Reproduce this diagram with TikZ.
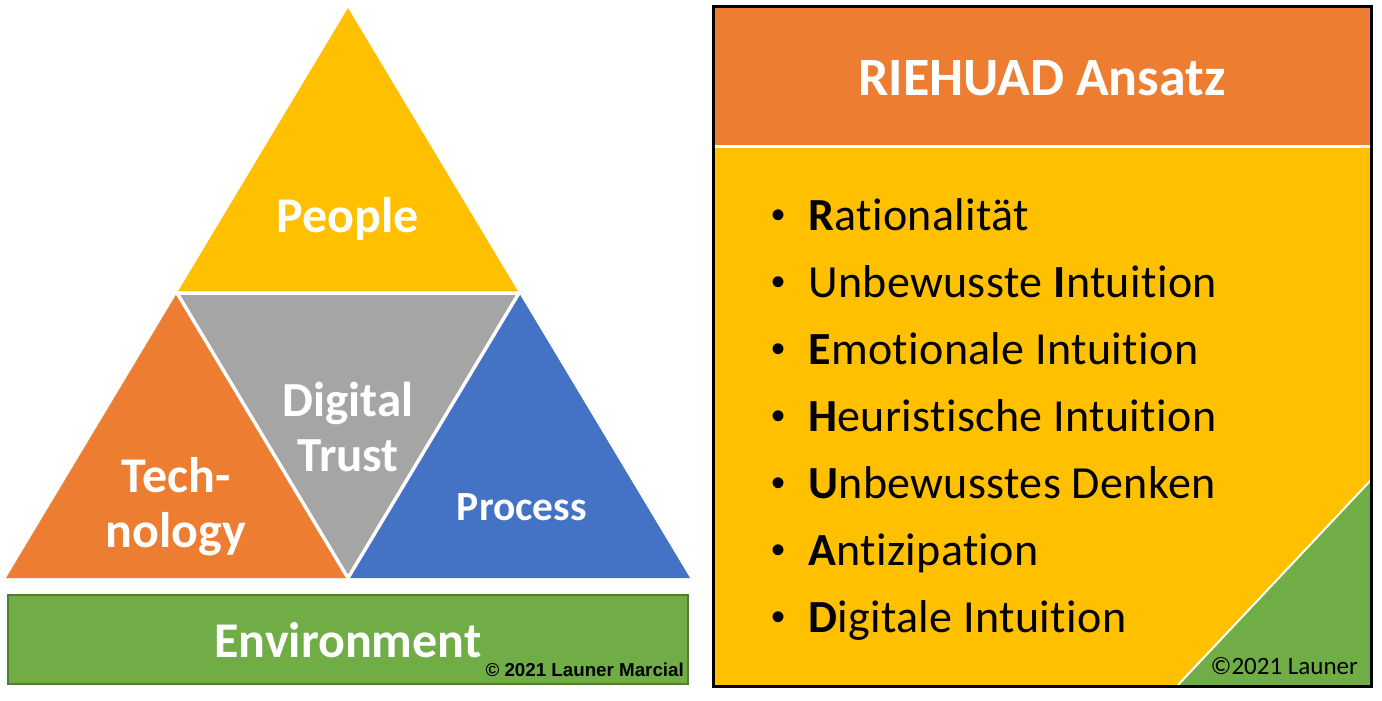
\documentclass[tikz,border=0pt]{standalone}
\usepackage{fontspec}
\setmainfont[Ligatures=NoCommon]{Carlito}
\newfontfamily\itemfont[Ligatures=NoCommon,LetterSpace=0.8]{Carlito}
\newfontfamily\arialfont{Liberation Sans}
\definecolor{cyellow}{HTML}{FFC000}
\definecolor{corange}{HTML}{ED7D31}
\definecolor{cgray}{HTML}{A5A5A5}
\definecolor{cblue}{HTML}{4472C4}
\definecolor{cgreen}{HTML}{70AD47}
\definecolor{cgreenborder}{HTML}{507E32}
\tikzset{
  whitelabel/.style={text=white,font=\bfseries,inner sep=0pt,align=center},
  itemtext/.style={anchor=base west,inner sep=0pt,font=\itemfont\fontsize{46}{54}\selectfont,text=black},
  bulletdot/.style={anchor=base,inner sep=0pt,font=\arialfont\fontsize{40}{42}\selectfont,text=black},
  sepline/.style={white,line width=3.5pt,line cap=round},
}
\begin{document}
\begin{tikzpicture}[x=1pt,y=-1pt]
\useasboundingbox (0,0) rectangle (1382,701);
\fill[white] (0,0) rectangle (1382,701);
% pyramid vertices
\coordinate (A) at (348,8);
\coordinate (B) at (6,578);
\coordinate (C) at (690,578);
\coordinate (MAB) at (177,293);
\coordinate (MAC) at (519,293);
\coordinate (MBC) at (348,578);
\fill[cyellow] (A) -- (MAB) -- (MAC) -- cycle;
\fill[corange] (MAB) -- (B) -- (MBC) -- cycle;
\fill[cblue] (MAC) -- (MBC) -- (C) -- cycle;
\fill[cgray] (MAB) -- (MAC) -- (MBC) -- cycle;
\draw[sepline] (MAB) -- (MAC) -- (MBC) -- cycle;
% labels
\node[whitelabel,font=\fontsize{50}{55}\selectfont\bfseries] (people) at (348,219) {People};
\node[whitelabel,font=\fontsize{49}{55}\selectfont\bfseries] (trust) at (348,427) {Digital\\Trust};
\node[whitelabel,font=\fontsize{50}{55}\selectfont\bfseries] (tech) at (176,507) {Tech-\\nology};
\node[whitelabel,font=\fontsize{41.5}{44}\selectfont\bfseries] (process) at (522,507) {Process};
% environment
\node[fill=cgreen,draw=cgreenborder,line width=1.5pt,minimum width=680pt,minimum height=89pt,inner sep=0pt] (env) at (348,639.5) {};
\node[whitelabel,font=\fontsize{50}{52}\selectfont\bfseries] (envlabel) at (348,640) {Environment};
\node[anchor=base east,inner sep=0pt,font=\arialfont\bfseries\fontsize{18.75}{20}\selectfont] (copyleft) at (684,676) {\textcopyright{} 2021 Launer Marcial};
% right panel
\fill[cyellow] (713,147) rectangle (1371,686);
\fill[corange] (713,7) rectangle (1371,145);
\draw[white,line width=3pt] (713,146) -- (1371,146);
\coordinate (G1) at (1371,480);
\coordinate (G2) at (1371,686);
\coordinate (G3) at (1177,686);
\fill[cgreen] (G1) -- (G2) -- (G3) -- cycle;
\draw[white,line width=2pt] (G1) -- (G3);
\draw[black,line width=3pt] (713,7) rectangle (1371,686);
\node[whitelabel,font=\fontsize{54}{58}\selectfont\bfseries] (title) at (1042,78) {RIEHUAD Ansatz};
\node[anchor=base east,inner sep=0pt,font=\fontsize{25}{27}\selectfont] (copyright) at (1358,674) {\textcopyright2021 Launer};
% bullets
\foreach \y/\n in {230/1,297/2,364/3,431/4,498/5,565/6,632/7} {
  \node[bulletdot] (b\n) at (778,\y-2) {\textbullet};
}
\node[itemtext] (i1) at (808,230) {\textbf{R}ationalität};
\node[itemtext] (i2) at (808,297) {Unbewusste \textbf{I}ntuition};
\node[itemtext] (i3) at (808,364) {\textbf{E}motionale Intuition};
\node[itemtext] (i4) at (808,431) {\textbf{H}euristische Intuition};
\node[itemtext] (i5) at (808,498) {\textbf{U}nbewusstes Denken};
\node[itemtext] (i6) at (808,565) {\textbf{A}ntizipation};
\node[itemtext] (i7) at (808,632) {\textbf{D}igitale Intuition};
\end{tikzpicture}
\end{document}
